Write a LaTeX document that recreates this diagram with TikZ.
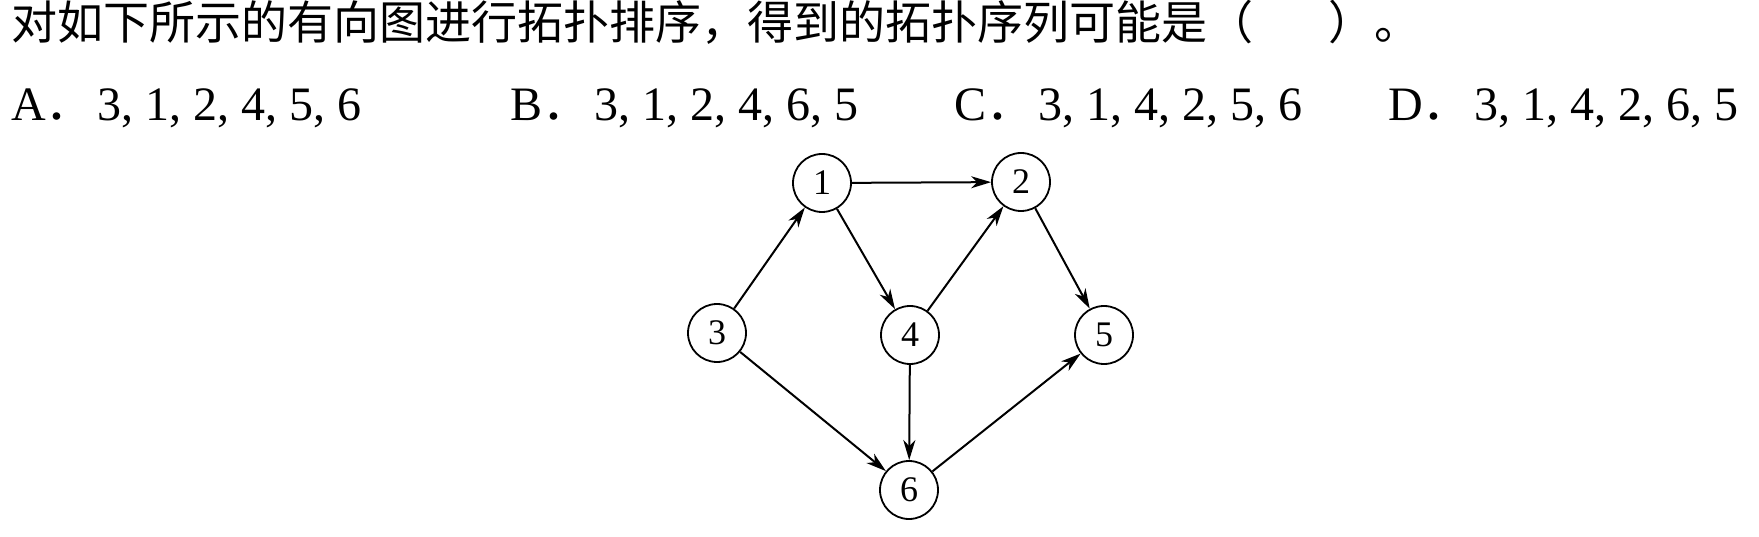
\documentclass[tikz,border=0pt]{standalone}
\usepackage{fontspec}
\setmainfont{Liberation Serif}
\newfontfamily\cjk{Noto Sans CJK SC}
\usetikzlibrary{arrows.meta,positioning}
\tikzset{vtx/.style={circle,draw,line width=1.8pt,minimum size=58pt,inner sep=0pt,font=\fontsize{36}{36}\selectfont}}
\begin{document}
\begin{tikzpicture}[x=1pt,y=-1pt]
\useasboundingbox (0,0) rectangle (1759,537);
\node[anchor=base west,inner sep=0pt,font=\fontsize{46}{46}\selectfont\cjk] (q) at (11,40) {对如下所示的有向图进行拓扑排序，得到的拓扑序列可能是（\hspace{75pt}）。};
\node[anchor=base west,inner sep=0pt,font=\fontsize{48}{48}\selectfont] (optA) at (11,121) {A{\cjk ．}\hspace{4pt}3, 1, 2, 4, 5, 6};
\node[anchor=base west,inner sep=0pt,font=\fontsize{48}{48}\selectfont] (optB) at (510,121) {B{\cjk ．}\hspace{4pt}3, 1, 2, 4, 6, 5};
\node[anchor=base west,inner sep=0pt,font=\fontsize{48}{48}\selectfont] (optC) at (954,121) {C{\cjk ．}\hspace{4pt}3, 1, 4, 2, 5, 6};
\node[anchor=base west,inner sep=0pt,font=\fontsize{48}{48}\selectfont] (optD) at (1388,121) {D{\cjk ．}\hspace{4pt}3, 1, 4, 2, 6, 5};
\node[vtx] (v1) at (822,183) {1};
\node[vtx] (v2) at (1021,182) {2};
\node[vtx] (v3) at (717,333) {3};
\node[vtx] (v4) at (910,335) {4};
\node[vtx] (v5) at (1104,335) {5};
\node[vtx] (v6) at (909,490) {6};
\path[-{Stealth[length=20pt,width=12pt,inset=6pt]},line width=2pt]
(v1) edge (v2)
(v1) edge (v4)
(v3) edge (v1)
(v3) edge (v6)
(v4) edge (v2)
(v4) edge (v6)
(v2) edge (v5)
(v6) edge (v5);
\end{tikzpicture}
\end{document}
